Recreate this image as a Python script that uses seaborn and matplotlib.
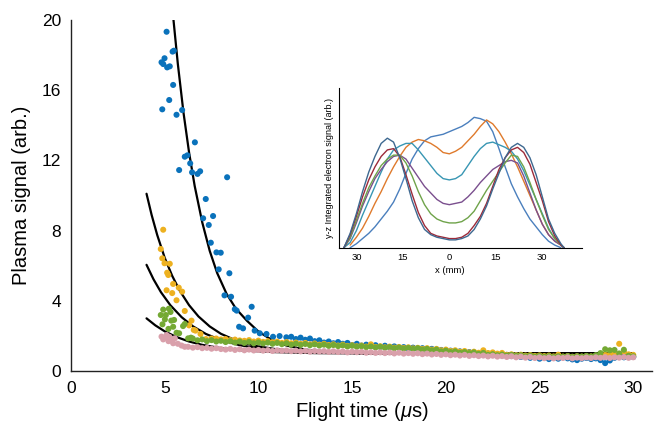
import numpy as np
import pandas as pd
import matplotlib
matplotlib.use("Agg")
import matplotlib.pyplot as plt
import seaborn as sns

sns.set_theme(style="white")
plt.rcParams['font.family'] = ['Liberation Sans', 'DejaVu Sans']
plt.rcParams['mathtext.fontset'] = 'custom'
plt.rcParams['mathtext.it'] = 'Liberation Sans:italic'
plt.rcParams['mathtext.rm'] = 'Liberation Sans'

# ---- main plot: plasma signal vs flight time (4 runs) ----
blue_x = [5.10, 5.42, 5.49, 4.99, 4.83, 4.92, 5.13, 5.27, 5.45, 5.24, 4.87, 5.93, 5.63, 6.61, 6.07,
          6.21, 6.36, 5.77, 6.46, 6.75, 6.89, 8.33, 7.19, 7.05, 7.58, 7.35, 7.46, 7.76, 7.99, 7.88,
          8.45, 8.19, 8.54, 8.74, 8.84, 9.64, 9.45, 8.97, 9.18, 9.80, 10.07, 10.43, 10.78, 11.13, 11.49]
blue_y = [19.33, 18.2, 18.25, 17.82, 17.59, 17.49, 17.3, 17.36, 16.3, 15.44, 14.91, 14.87, 14.6, 13.03, 12.21,
          12.29, 11.83, 11.45, 11.32, 11.23, 11.38, 11.04, 9.80, 8.70, 8.83, 8.32, 7.31, 6.76, 6.74, 5.79,
          5.57, 4.31, 4.23, 3.52, 3.44, 3.66, 3.04, 2.52, 2.43, 2.30, 2.15, 2.11, 1.95, 1.99, 1.92]
blue_tail_start = 11.75
blue_tail = [1.95, 1.82, 1.90, 1.78, 1.85, 1.70,
             1.75, 1.62, 1.68, 1.58, 1.65, 1.55, 1.60, 1.48,
             1.55, 1.45, 1.50, 1.42, 1.47, 1.38, 1.44, 1.35,
             1.40, 1.32, 1.36, 1.28, 1.33, 1.25, 1.30, 1.22,
             1.26, 1.15, 1.20, 1.12, 1.16, 1.08, 1.12, 1.02,
             1.08, 0.98, 1.02, 0.95, 1.00, 0.92, 0.96, 0.88,
             0.92, 0.85, 0.90, 0.80, 0.86, 0.75, 0.80, 0.70,
             0.76, 0.68, 0.74, 0.70, 0.78, 0.72, 0.66, 0.62,
             0.70, 0.74, 0.68, 0.72, 0.62, 0.45, 0.60, 0.75,
             0.82, 0.78, 0.85, 0.80]

yellow_x = [4.92, 4.79, 4.87, 4.99, 5.27, 5.19, 5.13, 5.45, 5.10, 5.40, 5.75, 5.93, 5.63, 6.07, 6.30,
            6.43, 6.55, 6.64, 6.91, 7.20, 7.50]
yellow_y = [8.05, 6.95, 6.42, 6.14, 6.11, 5.47, 5.60, 4.96, 4.60, 4.44, 4.75, 4.52, 4.03, 3.42, 2.60,
            2.87, 2.34, 2.30, 2.11, 1.82, 1.85]
yellow_tail_start = 7.75
yellow_tail = [1.85, 1.80, 1.82, 1.76, 1.79, 1.74,
               1.72, 1.76, 1.68, 1.73, 1.66, 1.70, 1.64, 1.67,
               1.60, 1.65, 1.58, 1.62, 1.55, 1.60, 1.52, 1.57,
               1.50, 1.55, 1.48, 1.52, 1.45, 1.50, 1.43, 1.47,
               1.41, 1.45, 1.39, 1.52, 1.37, 1.41, 1.35, 1.39,
               1.33, 1.37, 1.31, 1.35, 1.29, 1.32, 1.26, 1.30,
               1.22, 1.26, 1.18, 1.22, 1.14, 1.18, 1.10, 1.14,
               1.06, 1.10, 1.04, 1.18, 1.02, 1.06, 0.99, 1.03,
               0.92, 0.95, 0.90, 0.93, 0.88, 0.91, 0.86, 0.89,
               0.85, 0.88, 0.83, 0.93, 0.82, 0.85, 0.81, 0.84,
               0.82, 0.85, 0.83, 0.87, 0.90, 0.92, 0.95, 1.00,
               1.55, 1.10, 0.95, 0.92]

green_x = [4.92, 5.22, 5.06, 5.31, 4.79, 5.01, 5.35, 5.50, 4.88, 5.98, 6.07, 5.63, 5.77, 5.45, 6.25,
           6.40, 5.20]
green_y = [3.50, 3.55, 3.19, 3.36, 3.19, 2.94, 2.87, 2.91, 2.66, 2.56, 2.68, 2.18, 2.15, 2.52, 1.86,
           1.90, 2.40]
green_tail_start = 6.5
green_tail = [1.85, 1.75, 1.80, 1.70, 1.76, 1.68, 1.72,
              1.65, 1.70, 1.62, 1.68, 1.60, 1.66, 1.58, 1.63,
              1.57, 1.62, 1.55, 1.60, 1.53, 1.58, 1.50, 1.56,
              1.49, 1.54, 1.47, 1.52, 1.45, 1.50, 1.43, 1.48,
              1.42, 1.46, 1.40, 1.44, 1.38, 1.42, 1.36, 1.40,
              1.34, 1.38, 1.32, 1.36, 1.30, 1.34, 1.28, 1.32,
              1.26, 1.30, 1.22, 1.26, 1.18, 1.22, 1.12, 1.16,
              1.08, 1.12, 1.04, 1.08, 1.02, 1.06, 0.98, 1.03,
              0.92, 0.96, 0.90, 0.94, 0.88, 0.92, 0.86, 0.90,
              0.84, 0.88, 0.82, 0.86, 0.81, 0.85, 0.80, 0.84,
              0.81, 0.85, 0.80, 0.84, 0.82, 0.86, 0.83, 0.90,
              1.02, 1.24, 1.18, 1.20, 1.00, 1.21, 0.87, 0.84]

pink_x = [4.83, 5.10, 4.92, 5.25, 5.54, 5.35, 5.45, 5.00, 5.70, 5.90, 6.07, 5.20]
pink_y = [1.96, 2.05, 1.80, 1.95, 1.86, 1.75, 1.58, 1.90, 1.55, 1.45, 1.38, 1.70]
pink_tail_start = 6.25
pink_tail = [1.38, 1.33, 1.36, 1.30, 1.32, 1.27, 1.30, 1.25,
             1.22, 1.26, 1.20, 1.24, 1.18, 1.22, 1.17, 1.20,
             1.16, 1.19, 1.14, 1.18, 1.15, 1.17, 1.13, 1.16,
             1.12, 1.15, 1.10, 1.14, 1.11, 1.13, 1.09, 1.12,
             1.08, 1.11, 1.06, 1.10, 1.07, 1.09, 1.04, 1.07,
             1.03, 1.06, 1.02, 1.05, 1.00, 1.04, 0.99, 1.02,
             0.98, 1.01, 0.96, 0.99, 0.94, 0.97, 0.92, 0.95,
             0.90, 0.93, 0.88, 0.92, 0.86, 0.90, 0.85, 0.88,
             0.83, 0.87, 0.82, 0.85, 0.80, 0.84, 0.78, 0.82,
             0.76, 0.80, 0.74, 0.78, 0.73, 0.77, 0.72, 0.76,
             0.74, 0.78, 0.72, 0.76, 0.73, 0.77, 0.74, 0.78,
             0.75, 0.79, 0.74, 0.78, 0.76, 0.80, 0.75, 0.78]

# fitted decay curves (black)
fit_blue_x = [5.45, 5.7, 6.0, 6.3, 6.6, 7.0, 7.4, 7.8, 8.3, 8.8, 9.4, 10.0, 10.7, 11.5, 12.5, 14, 16, 20, 25, 30]
fit_blue_y = [20.2, 17.5, 14.74, 12.45, 10.54, 8.48, 6.85, 5.58, 4.4, 3.55, 2.85, 2.25, 1.78, 1.45, 1.22, 1.06, 1.0, 1.0, 1.0, 1.0]
fit_yellow_x = [4.03, 4.3, 4.6, 5.0, 5.4, 5.8, 6.3, 6.8, 7.4, 8.0, 8.8, 9.8, 11, 12.5, 14.5, 17, 30]
fit_yellow_y = [10.1, 8.9, 7.75, 6.45, 5.42, 4.58, 3.75, 3.11, 2.54, 2.12, 1.74, 1.44, 1.23, 1.11, 1.04, 1.0, 1.0]
fit_green_x = [4.03, 4.4, 4.8, 5.3, 5.9, 6.5, 7.2, 8.0, 9.0, 10.2, 11.8, 14, 17, 30]
fit_green_y = [6.05, 5.23, 4.49, 3.75, 3.07, 2.55, 2.11, 1.76, 1.47, 1.27, 1.12, 1.04, 1.0, 1.0]
fit_pink_x = [4.03, 4.5, 5.0, 5.6, 6.3, 7.0, 8.0, 9.2, 10.8, 13, 16, 30]
fit_pink_y = [3.0, 2.6, 2.26, 1.95, 1.68, 1.49, 1.3, 1.17, 1.08, 1.02, 1.0, 1.0]

run_colors = {'blue': '#0a72bb', 'yellow': '#edb120', 'green': '#74a934', 'pink': '#d9a0ab'}

# ---- inset: electron signal profiles along x ----
x_mm = [-34, -32, -30, -28, -26, -24, -22, -20, -18, -16, -14, -12, -10, -8, -6, -4, -2, 0,
        2, 4, 6, 8, 10, 12, 14, 16, 18, 20, 22, 24, 26, 28, 30, 32, 34, 36, 37]
prof_blue = [np.nan, 0.0, 0.03, 0.07, 0.11, 0.16, 0.22, 0.28, 0.35, 0.45, 0.57, 0.68, 0.76, 0.82, 0.85, 0.86, 0.87, 0.89,
             0.91, 0.93, 0.96, 1.0, 0.99, 0.97, 0.89, 0.76, 0.62, 0.49, 0.39, 0.30, 0.22, 0.16, 0.10, 0.05, 0.02, 0.0, np.nan]
prof_orange = [np.nan, 0.02, 0.08, 0.15, 0.24, 0.34, 0.43, 0.53, 0.62, 0.70, 0.77, 0.81, 0.83, 0.82, 0.80, 0.77, 0.73, 0.72,
               0.74, 0.77, 0.82, 0.87, 0.93, 0.98, 0.95, 0.89, 0.81, 0.72, 0.62, 0.51, 0.40, 0.29, 0.18, 0.10, 0.05, 0.02, 0.0]
prof_teal = [0.0, 0.04, 0.13, 0.25, 0.36, 0.47, 0.58, 0.68, 0.75, 0.78, 0.80, 0.80, 0.75, 0.69, 0.63, 0.57, 0.53, 0.52,
             0.53, 0.56, 0.63, 0.70, 0.76, 0.80, 0.81, 0.79, 0.77, 0.74, 0.68, 0.59, 0.48, 0.37, 0.26, 0.15, 0.07, 0.02, 0.0]
prof_purple = [0.0, 0.07, 0.19, 0.32, 0.43, 0.53, 0.60, 0.66, 0.70, 0.71, 0.68, 0.61, 0.54, 0.47, 0.42, 0.37, 0.34, 0.33,
               0.34, 0.35, 0.39, 0.44, 0.50, 0.55, 0.60, 0.63, 0.66, 0.67, 0.65, 0.55, 0.42, 0.29, 0.18, 0.10, 0.05, 0.02, 0.0]
prof_green = [0.0, 0.08, 0.21, 0.34, 0.46, 0.55, 0.63, 0.68, 0.71, 0.71, 0.65, 0.55, 0.43, 0.33, 0.26, 0.22, 0.20, 0.19,
              0.19, 0.20, 0.23, 0.28, 0.36, 0.44, 0.51, 0.58, 0.65, 0.71, 0.70, 0.62, 0.50, 0.37, 0.25, 0.14, 0.07, 0.02, 0.0]
prof_red = [0.0, 0.10, 0.24, 0.39, 0.52, 0.62, 0.70, 0.75, 0.76, 0.70, 0.56, 0.41, 0.27, 0.17, 0.11, 0.09, 0.08, 0.07,
            0.07, 0.08, 0.11, 0.17, 0.24, 0.34, 0.47, 0.60, 0.69, 0.75, 0.77, 0.73, 0.64, 0.50, 0.36, 0.20, 0.09, 0.02, 0.0]
prof_slate = [0.0, 0.11, 0.26, 0.43, 0.58, 0.70, 0.80, 0.84, 0.81, 0.69, 0.53, 0.36, 0.23, 0.14, 0.10, 0.08, 0.07, 0.06,
              0.06, 0.07, 0.09, 0.14, 0.22, 0.32, 0.45, 0.57, 0.69, 0.77, 0.80, 0.77, 0.69, 0.56, 0.39, 0.22, 0.11, 0.03, 0.0]

prof_colors = {'blue': '#4a7fbd', 'orange': '#df7a2c', 'teal': '#3896b3', 'purple': '#7a4f8e',
               'green': '#6fa34a', 'red': '#9c2b3a', 'slate': '#3d6890'}


def run_frame(name, xe, ye, tail_start, tail):
    t = list(xe) + list(tail_start + 0.25 * np.arange(len(tail)))
    return pd.DataFrame({'t': t, 'signal': list(ye) + list(tail), 'run': name})


runs = pd.concat([
    run_frame('blue', blue_x, blue_y, blue_tail_start, blue_tail),
    run_frame('yellow', yellow_x, yellow_y, yellow_tail_start, yellow_tail),
    run_frame('green', green_x, green_y, green_tail_start, green_tail),
    run_frame('pink', pink_x, pink_y, pink_tail_start, pink_tail),
], ignore_index=True)

profiles = pd.DataFrame({'x': x_mm, 'blue': prof_blue, 'orange': prof_orange, 'teal': prof_teal,
                         'purple': prof_purple, 'green': prof_green, 'red': prof_red, 'slate': prof_slate})
profiles = profiles.melt(id_vars='x', var_name='profile', value_name='signal').dropna()

fig = plt.figure(figsize=(6.57, 4.26), dpi=100)
ax = fig.add_axes([71 / 657, 1 - 371 / 426, 581 / 657, 351 / 426])

# fits sit underneath the points, so they only show where the points drop below them
for fx, fy in [(fit_blue_x, fit_blue_y), (fit_yellow_x, fit_yellow_y),
               (fit_green_x, fit_green_y), (fit_pink_x, fit_pink_y)]:
    sns.lineplot(x=fx, y=fy, color='black', lw=1.6, ax=ax, zorder=1, estimator=None, sort=False)
sns.scatterplot(data=runs, x='t', y='signal', hue='run', palette=run_colors, s=19,
                linewidth=0, legend=False, ax=ax, zorder=2)

ax.set_xlim(0, 31)
ax.set_ylim(0, 20)
ax.set_xticks([0, 5, 10, 15, 20, 25, 30])
ax.set_yticks([0, 4, 8, 12, 16, 20])
ax.tick_params(length=0, labelsize=12.5, pad=7, colors='black')
ax.set_xlabel('Flight time ($\\mu$s)', fontsize=14.5, labelpad=3, color='black')
ax.set_ylabel('Plasma signal (arb.)', fontsize=14.5, labelpad=8, color='black')
for side in ['top', 'right']:
    ax.spines[side].set_visible(False)
for side in ['left', 'bottom']:
    ax.spines[side].set_color('#222222')
    ax.spines[side].set_linewidth(1.0)

# inset
ax_in = fig.add_axes([339.3 / 657, 1 - 247.7 / 426, 242.4 / 657, 159.7 / 426])
sns.lineplot(data=profiles, x='x', y='signal', hue='profile', palette=prof_colors, lw=1.0,
             legend=False, ax=ax_in, estimator=None, sort=False)
ax_in.set_xlim(-35.5, 42.7)
ax_in.set_ylim(0, 1.225)
ax_in.set_xticks([-30, -15, 0, 15, 30])
ax_in.set_xticklabels(['30', '15', '0', '15', '30'])
ax_in.set_yticks([])
ax_in.tick_params(axis='x', direction='in', length=2.5, width=0.6, labelsize=6.8, pad=4, colors='black')
ax_in.set_xlabel('x (mm)', fontsize=6.8, labelpad=3, color='black')
ax_in.xaxis.label.set_x(35.5 / 78.2)
ax_in.set_ylabel('y-z Integrated electron signal (arb.)', fontsize=6.5, labelpad=4, color='black')
for side in ['top', 'right']:
    ax_in.spines[side].set_visible(False)
for side in ['left', 'bottom']:
    ax_in.spines[side].set_color('black')
    ax_in.spines[side].set_linewidth(0.8)
ax_in.patch.set_alpha(0)

fig.savefig('out.png', dpi=100)
